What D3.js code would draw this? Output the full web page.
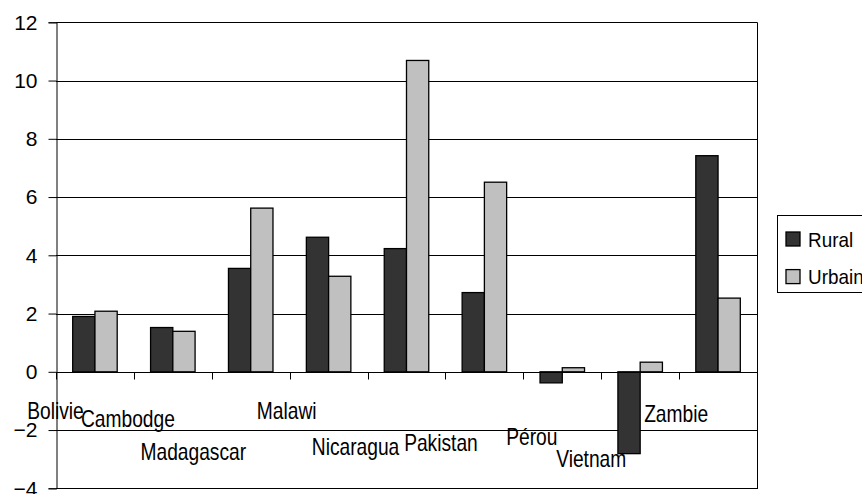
<!DOCTYPE html>
<html><head><meta charset="utf-8">
<script src="https://cdn.jsdelivr.net/npm/d3@7"></script>
<style>
html,body{margin:0;padding:0;background:#fff;}
svg{display:block;}
</style>
</head><body>
<svg id="chart" width="862" height="494"></svg>
<script>
const categories = ["Bolivie","Cambodge","Madagascar","Malawi","Nicaragua","Pakistan","Pérou","Vietnam","Zambie"];
const rural  = [1.9, 1.52, 3.55, 4.62, 4.23, 2.72, -0.38, -2.81, 7.42];
const urbain = [2.08, 1.39, 5.62, 3.28, 10.69, 6.51, 0.14, 0.33, 2.53];
const seriesNames = ["Rural","Urbain"];
const yTicks = [-4,-2,0,2,4,6,8,10,12];
// layout-only: label nudges from category left edge, and baselines
const labelDx = [-0.5,-6,-18.5,-3,-12,-4.5,8.5,-10,-3];
const labelBaseline = [419,426.7,460,419,455,450.5,445,466.7,421.7];

const colors = ["#333333","#c0c0c0"];
const svg = d3.select("#chart");
const pLeft = 56, pRight = 757, pTop = 22.3, pBottom = 488.3;
const FONT = "'Liberation Sans', Arial, sans-serif";

const x = d3.scaleBand().domain(categories).range([pLeft,pRight]).paddingInner(0).paddingOuter(0);
const bw = x.bandwidth();
const x1 = d3.scaleBand().domain(seriesNames).range([bw*0.75/3.5, bw*2.75/3.5]);
const y = d3.scaleLinear().domain([-4,12]).range([pBottom, pTop]);

// gridlines
svg.append("g").selectAll("line").data(yTicks.filter(d=>d!==-4)).join("line")
  .attr("x1",pLeft).attr("x2",pRight)
  .attr("y1",d=>Math.round(y(d))+0.5).attr("y2",d=>Math.round(y(d))+0.5)
  .attr("stroke","#000").attr("stroke-width",1);

// right border
svg.append("line").attr("x1",pRight+0.5).attr("x2",pRight+0.5).attr("y1",pTop).attr("y2",pBottom)
  .attr("stroke","#000");
// bottom border
svg.append("line").attr("x1",pLeft).attr("x2",pRight+1).attr("y1",Math.round(pBottom)+0.5).attr("y2",Math.round(pBottom)+0.5)
  .attr("stroke","#000");

// y axis
const yAxis = d3.axisLeft(y).tickValues(yTicks).tickSize(8).tickPadding(11);
const yg = svg.append("g").attr("transform",`translate(${pLeft+0.5},0)`).call(yAxis);
yg.select(".domain").attr("stroke","#000");
yg.selectAll(".tick line").attr("stroke","#000");
yg.selectAll("text").attr("font-family",FONT).attr("font-size",21).attr("fill","#000");

// bars
const data = categories.map((c,i)=>({c, vals:[rural[i],urbain[i]]}));
const groups = svg.append("g").selectAll("g").data(data).join("g")
  .attr("transform",d=>`translate(${x(d.c)},0)`);
groups.selectAll("rect").data(d=>d.vals.map((v,j)=>({v,s:seriesNames[j],j}))).join("rect")
  .attr("x",d=>x1(d.s))
  .attr("width",x1.bandwidth())
  .attr("y",d=>Math.min(y(d.v),y(0)))
  .attr("height",d=>Math.abs(y(d.v)-y(0)))
  .attr("fill",d=>colors[d.j])
  .attr("stroke","#000").attr("stroke-width",1.3);

// x axis at zero
const xg = svg.append("g").attr("transform",`translate(0,${Math.round(y(0))+0.5})`);
xg.append("line").attr("x1",pLeft).attr("x2",pRight).attr("stroke","#000");
const tickXs = categories.map(c=>x(c)).concat([pRight]);
xg.selectAll("line.t").data(tickXs).join("line").attr("class","t")
  .attr("x1",d=>Math.round(d)+0.5).attr("x2",d=>Math.round(d)+0.5)
  .attr("y1",0).attr("y2",7).attr("stroke","#000");

// category labels (condensed look)
svg.append("g").selectAll("text").data(categories).join("text")
  .attr("transform",(d,i)=>`translate(${x(d)+labelDx[i]},${labelBaseline[i]}) scale(0.8,1)`)
  .attr("text-anchor","middle")
  .attr("font-family",FONT)
  .attr("font-size",24)
  .attr("fill","#000")
  .text(d=>d);

// legend
const lg = svg.append("g");
lg.append("rect").attr("x",777.5).attr("y",215.5).attr("width",120).attr("height",77)
  .attr("fill","#fff").attr("stroke","#000");
seriesNames.forEach((s,i)=>{
  const yy = 232 + i*37.6;
  lg.append("rect").attr("x",786).attr("y",yy).attr("width",14).attr("height",14)
    .attr("fill",colors[i]).attr("stroke","#000").attr("stroke-width",1.3);
  lg.append("text").attr("transform",`translate(808,${yy+14.5}) scale(0.9,1)`)
    .attr("font-family",FONT)
    .attr("font-size",21).attr("fill","#000").text(s);
});
</script>
</body></html>
